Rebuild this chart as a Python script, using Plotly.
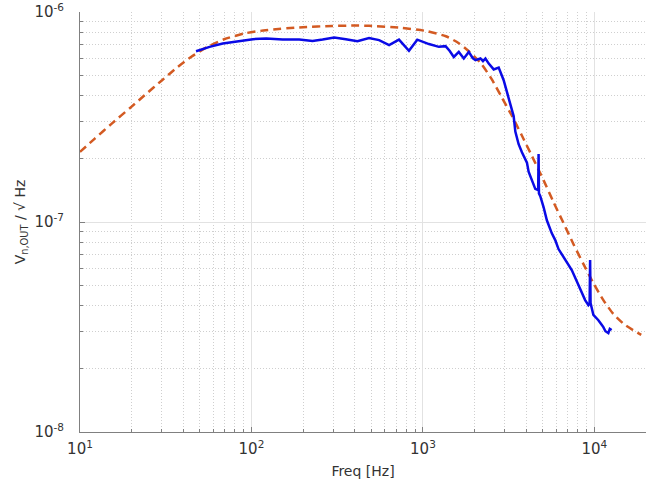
import plotly.graph_objects as go

# Dashed model curve (frequency in Hz, noise density in V/sqrt(Hz))
model_freq = [10, 12.2, 15.2, 20, 23.8, 30, 37.2, 44.4, 55.5, 69.3, 90.7, 121, 200,
              296, 400, 485, 755, 1041, 1361, 1619, 1850, 2173, 2517, 2877, 3290,
              3763, 4303, 5050, 5776, 6607, 7553, 8636, 9867, 11280, 12900, 15140, 18760]
model_vals = [2.16e-7, 2.50e-7, 2.93e-7, 3.55e-7, 4.02e-7, 4.73e-7, 5.49e-7, 6.12e-7,
              6.84e-7, 7.43e-7, 7.92e-7, 8.21e-7, 8.49e-7, 8.60e-7, 8.64e-7, 8.62e-7,
              8.42e-7, 8.14e-7, 7.68e-7, 7.12e-7, 6.52e-7, 5.72e-7, 4.80e-7, 3.94e-7,
              3.23e-7, 2.60e-7, 2.08e-7, 1.585e-7, 1.245e-7, 9.89e-8, 7.85e-8, 6.31e-8,
              5.12e-8, 4.25e-8, 3.65e-8, 3.23e-8, 2.90e-8]

# Measured curve
meas_freq = [47.5, 57, 68, 85, 102, 122, 152, 190, 227, 260, 304, 355, 415, 485, 555,
             635, 725, 829, 927, 1084, 1239, 1355, 1430, 1514, 1619, 1731, 1851, 1950,
             2025, 2165, 2240, 2315, 2420, 2587, 2766, 2957, 3162, 3381, 3459, 3615,
             3779, 4042, 4134, 4418, 4520, 4700, 4726, 4750, 4835, 5053, 5170, 5282,
             5646, 5910, 6177, 6755, 7379, 8072, 8829, 9229, 9380, 9441, 9500, 9867,
             10550, 11000, 11280, 11600, 12060, 12300, 12610]
meas_vals = [6.52e-7, 6.84e-7, 7.10e-7, 7.30e-7, 7.44e-7, 7.49e-7, 7.41e-7, 7.41e-7,
             7.30e-7, 7.41e-7, 7.58e-7, 7.44e-7, 7.27e-7, 7.54e-7, 7.36e-7, 6.97e-7,
             7.40e-7, 6.55e-7, 7.40e-7, 7.05e-7, 6.84e-7, 6.89e-7, 6.55e-7, 6.12e-7,
             6.47e-7, 6.02e-7, 6.47e-7, 6.05e-7, 5.91e-7, 6.02e-7, 5.85e-7, 6.02e-7,
             5.69e-7, 5.34e-7, 5.45e-7, 4.74e-7, 3.88e-7, 3.20e-7, 2.70e-7, 2.35e-7,
             2.15e-7, 1.92e-7, 1.74e-7, 1.50e-7, 1.44e-7, 1.42e-7, 2.11e-7, 1.37e-7,
             1.33e-7, 1.18e-7, 1.08e-7, 1.02e-7, 8.84e-8, 8.21e-8, 7.44e-8, 6.59e-8,
             5.91e-8, 5.01e-8, 4.25e-8, 4.02e-8, 4.08e-8, 6.59e-8, 4.11e-8, 3.61e-8,
             3.41e-8, 3.25e-8, 3.16e-8, 3.02e-8, 2.96e-8, 3.10e-8, 3.06e-8]

x_tick_vals = [1e1, 1e2, 1e3, 1e4]
x_tick_text = ["10<sup>1</sup>", "10<sup>2</sup>", "10<sup>3</sup>", "10<sup>4</sup>"]
y_tick_vals = [1e-8, 1e-7, 1e-6]
y_tick_text = ["10<sup>-8</sup>", "10<sup>-7</sup>", "10<sup>-6</sup>"]

x_title = "Freq [Hz]"
y_title = "V<sub>n,OUT</sub> / √ Hz"

fig = go.Figure()
fig.add_trace(go.Scatter(x=model_freq, y=model_vals, mode="lines",
                         line=dict(color="#D35A22", width=2.5, dash="8px,5px", shape="spline", smoothing=0.6),
                         showlegend=False))
fig.add_trace(go.Scatter(x=meas_freq, y=meas_vals, mode="lines",
                         line=dict(color="#0A0AE6", width=2.5),
                         showlegend=False))

tick_font = dict(family="DejaVu Sans", size=15, color="#333333")
title_font = dict(family="DejaVu Sans", size=14, color="#333333")
grid_major = "#E2E2E2"
grid_minor = "#CFCFCF"

common = dict(type="log", showline=True, linecolor="#808080", linewidth=1,
              ticks="inside", ticklen=5, tickcolor="#808080",
              showgrid=True, gridcolor=grid_major, gridwidth=1,
              minor=dict(dtick="D1", ticks="inside", ticklen=3, tickcolor="#808080",
                         showgrid=True, gridcolor=grid_minor, griddash="1px,2px", gridwidth=1),
              zeroline=False, mirror=False, tickfont=tick_font, automargin=False)

fig.update_xaxes(range=[1, 4.301], tickmode="array", tickvals=x_tick_vals, ticktext=x_tick_text,
                 ticklabelstandoff=3,
                 title=dict(text=x_title, font=title_font, standoff=9), **common)
fig.update_yaxes(range=[-8, -5.999], tickmode="array", tickvals=y_tick_vals, ticktext=y_tick_text,
                 ticklabelstandoff=12,
                 title=dict(text=y_title, font=title_font, standoff=5), **common)

fig.update_layout(width=654, height=482, margin=dict(l=80, r=8, t=12, b=50),
                  plot_bgcolor="white", paper_bgcolor="white", font=title_font)

fig.write_html("out.html", config={"displayModeBar": False},
               post_script="document.body.style.margin='0';document.body.style.overflow='hidden';")
